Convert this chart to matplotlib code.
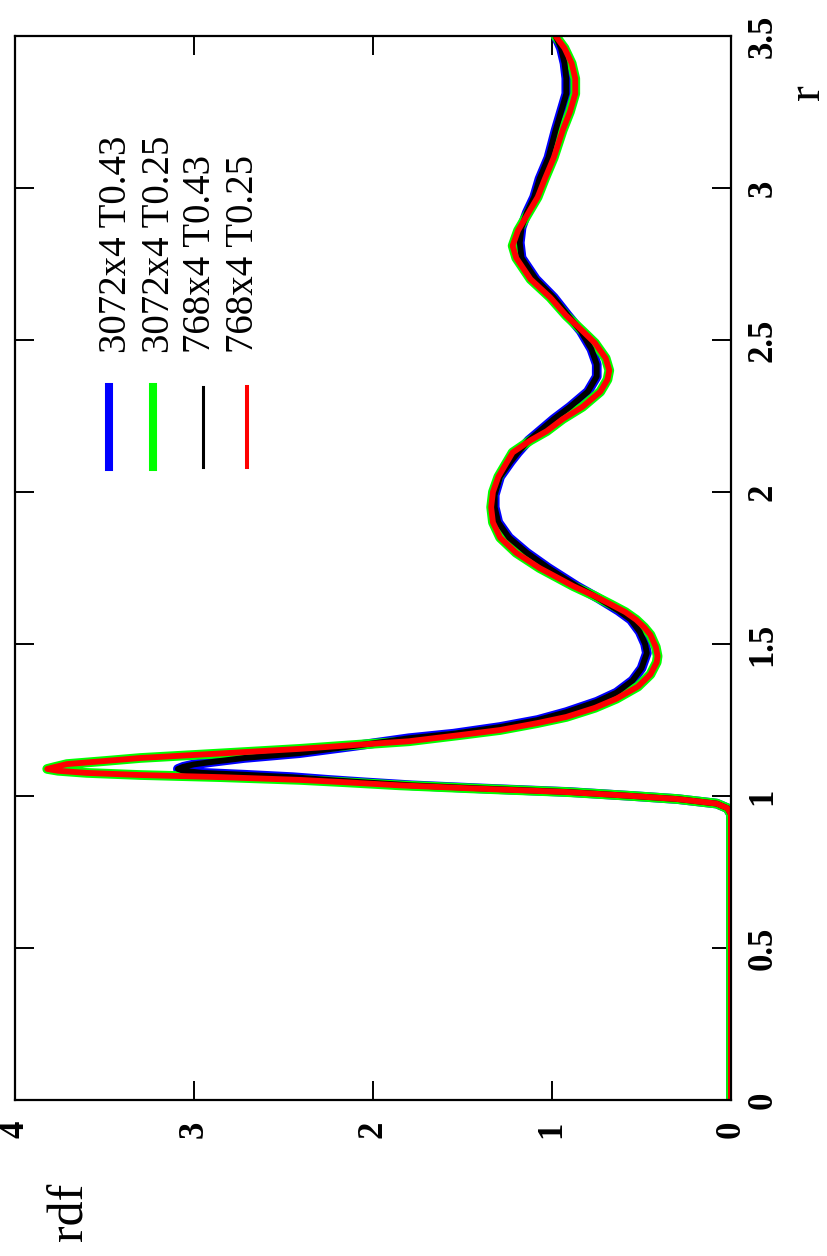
import matplotlib
matplotlib.use("Agg")
import matplotlib.pyplot as plt
from matplotlib.lines import Line2D

# ---- data ----
# T = 0.43 curves (blue: 3072x4, black: 768x4)
r_t043 = [0.00, 0.90, 0.94, 0.96, 0.975, 0.99, 1.00, 1.013, 1.025, 1.035, 1.045, 1.053,
          1.062, 1.070, 1.076, 1.083, 1.089, 1.096, 1.104, 1.112, 1.125, 1.141, 1.165,
          1.19, 1.205, 1.227, 1.25, 1.276, 1.31, 1.34, 1.38, 1.42, 1.47, 1.50, 1.54, 1.58,
          1.61, 1.65, 1.69, 1.75, 1.80, 1.85, 1.90, 1.95, 1.99, 2.05, 2.10, 2.13, 2.17, 2.20,
          2.24, 2.28, 2.33, 2.38, 2.42, 2.47, 2.53, 2.58, 2.64, 2.70, 2.77, 2.82, 2.87,
          2.92, 2.97, 3.03, 3.10, 3.19, 3.25, 3.31, 3.36, 3.41, 3.46, 3.50]
rdf_3072_t043 = [0.00, 0.00, 0.00, 0.02, 0.08, 0.30, 0.55, 0.90, 1.40, 1.78, 2.05, 2.25,
                 2.45, 2.72, 2.95, 3.06, 3.09, 3.06, 3.00, 2.90, 2.72, 2.41, 2.10,
                 1.80, 1.55, 1.29, 1.08, 0.92, 0.75, 0.64, 0.55, 0.50, 0.47, 0.48, 0.51, 0.56,
                 0.63, 0.74, 0.86, 1.02, 1.14, 1.24, 1.30, 1.32, 1.32, 1.29, 1.23, 1.19, 1.13, 1.07,
                 0.99, 0.90, 0.80, 0.75, 0.75, 0.78, 0.84, 0.91, 0.99, 1.09, 1.17, 1.18, 1.17,
                 1.14, 1.10, 1.07, 1.02, 0.98, 0.95, 0.92, 0.92, 0.93, 0.95, 0.98]
rdf_768_t043 = [0.00, 0.00, 0.00, 0.02, 0.08, 0.30, 0.55, 0.90, 1.40, 1.78, 2.05, 2.25,
                2.45, 2.72, 2.95, 3.06, 3.09, 3.06, 3.00, 2.90, 2.72, 2.41, 2.10,
                1.80, 1.55, 1.29, 1.08, 0.92, 0.75, 0.64, 0.55, 0.50, 0.47, 0.48, 0.51, 0.56,
                0.63, 0.74, 0.86, 1.02, 1.14, 1.24, 1.30, 1.32, 1.32, 1.29, 1.23, 1.19, 1.13, 1.07,
                0.99, 0.90, 0.80, 0.75, 0.75, 0.78, 0.84, 0.91, 0.99, 1.09, 1.17, 1.18, 1.17,
                1.14, 1.10, 1.07, 1.02, 0.98, 0.95, 0.92, 0.92, 0.93, 0.95, 0.98]

# T = 0.25 curves (green: 3072x4, red: 768x4)
r_t025 = [0.00, 0.90, 0.94, 0.96, 0.975, 0.99, 1.00, 1.013, 1.025, 1.035, 1.045, 1.053,
          1.062, 1.069, 1.076, 1.083, 1.089, 1.095, 1.105, 1.115, 1.125, 1.14, 1.155,
          1.17, 1.18, 1.20, 1.217, 1.24, 1.26, 1.29, 1.32, 1.36, 1.40, 1.44, 1.46, 1.49,
          1.53, 1.555, 1.58, 1.605, 1.63, 1.66, 1.69, 1.75, 1.80, 1.85, 1.90, 1.95, 2.00,
          2.05, 2.10, 2.13, 2.17, 2.20, 2.24, 2.28, 2.33, 2.37, 2.40, 2.44, 2.49, 2.53,
          2.58, 2.64, 2.70, 2.77, 2.81, 2.86, 2.92, 2.97, 3.03, 3.10, 3.19, 3.25, 3.31,
          3.36, 3.41, 3.46, 3.50]
rdf_3072_t025 = [0.00, 0.00, 0.00, 0.02, 0.08, 0.30, 0.55, 0.92, 1.45, 1.85, 2.15, 2.41,
                 2.85, 3.30, 3.60, 3.76, 3.82, 3.78, 3.71, 3.50, 3.30, 2.85, 2.41,
                 2.05, 1.80, 1.52, 1.29, 1.08, 0.92, 0.76, 0.64, 0.52, 0.45, 0.415, 0.41, 0.42,
                 0.45, 0.485, 0.53, 0.59, 0.67, 0.77, 0.88, 1.07, 1.20, 1.29, 1.33, 1.34, 1.33,
                 1.30, 1.25, 1.22, 1.12, 1.03, 0.94, 0.83, 0.73, 0.69, 0.68, 0.70, 0.76, 0.83,
                 0.92, 1.01, 1.12, 1.20, 1.22, 1.19, 1.13, 1.08, 1.04, 0.99, 0.94, 0.90, 0.87,
                 0.87, 0.89, 0.93, 0.98]
rdf_768_t025 = [0.00, 0.00, 0.00, 0.02, 0.08, 0.30, 0.55, 0.92, 1.45, 1.85, 2.15, 2.41,
                2.85, 3.30, 3.60, 3.76, 3.82, 3.78, 3.71, 3.50, 3.30, 2.85, 2.41,
                2.05, 1.80, 1.52, 1.29, 1.08, 0.92, 0.76, 0.64, 0.52, 0.45, 0.415, 0.41, 0.42,
                0.45, 0.485, 0.53, 0.59, 0.67, 0.77, 0.88, 1.07, 1.20, 1.29, 1.33, 1.34, 1.33,
                1.30, 1.25, 1.22, 1.12, 1.03, 0.94, 0.83, 0.73, 0.69, 0.68, 0.70, 0.76, 0.83,
                0.92, 1.01, 1.12, 1.20, 1.22, 1.19, 1.13, 1.08, 1.04, 0.99, 0.94, 0.90, 0.87,
                0.87, 0.89, 0.93, 0.98]

series_labels = ["3072x4 T0.43", "3072x4 T0.25", "768x4 T0.43", "768x4 T0.25"]
series_colors = ["#0000ff", "#00ff00", "#000000", "#ff0000"]

r_ticks = [0, 0.5, 1, 1.5, 2, 2.5, 3, 3.5]
r_tick_labels = ["0", "0.5", "1", "1.5", "2", "2.5", "3", "3.5"]
rdf_ticks = [0, 1, 2, 3, 4]
rdf_tick_labels = ["0", "1", "2", "3", "4"]

# ---- figure ----
W, H = 828, 1256
fig = plt.figure(figsize=(W / 100, H / 100), dpi=100)
fig.patch.set_facecolor("white")
ax = fig.add_axes([15 / W, (H - 1100) / H, 716 / W, 1064 / H])

curve_widths = [7.0, 7.0, 4.2, 4.2]
curves = [(r_t043, rdf_3072_t043), (r_t025, rdf_3072_t025),
          (r_t043, rdf_768_t043), (r_t025, rdf_768_t025)]
for (rr, gg), c, lw in zip(curves, series_colors, curve_widths):
    ax.plot(gg, rr, color=c, lw=lw, solid_joinstyle="round", solid_capstyle="round")

ax.set_xlim(4, 0)
ax.set_ylim(0, 3.5)

serif = ["Liberation Serif", "DejaVu Serif"]
ax.set_xticks(rdf_ticks)
ax.set_xticklabels(rdf_tick_labels, rotation=90, fontfamily=serif,
                   fontweight="bold", fontsize=25)
ax.set_yticks(r_ticks)
ax.set_yticklabels(r_tick_labels, rotation=90, fontfamily=serif,
                   fontweight="bold", fontsize=25, va="center")
ax.tick_params(axis="x", direction="in", length=14, width=1.4, top=True, bottom=True,
               pad=15)
ax.tick_params(axis="y", direction="in", length=14, width=1.4, left=True, right=True,
               labelleft=False, labelright=True, pad=11)
for sp in ax.spines.values():
    sp.set_linewidth(1.6)

# axis labels
fig.text(808 / W, 1 - 92 / H, "r", rotation=90, fontfamily=serif, fontsize=34,
         ha="center", va="center")
fig.text(70 / W, 1 - 1212 / H, "rdf", rotation=90, fontfamily=serif, fontsize=36,
         ha="center", va="center")

# legend (rotated, drawn manually)
text_x = [117, 160, 201, 244]
sample_x = [109, 153, 203, 247]
sample_w = [5.8, 5.8, 2.2, 2.9]
for lab, c, tx, sx, sw in zip(series_labels, series_colors, text_x, sample_x, sample_w):
    fig.text(tx / W, 1 - 353 / H, lab, rotation=90, fontfamily=serif, fontsize=28,
             ha="center", va="bottom")
    fig.add_artist(Line2D([sx / W, sx / W], [1 - 387 / H, 1 - 467 / H],
                          transform=fig.transFigure, color=c, lw=sw))

fig.savefig("out.png", dpi=100)
